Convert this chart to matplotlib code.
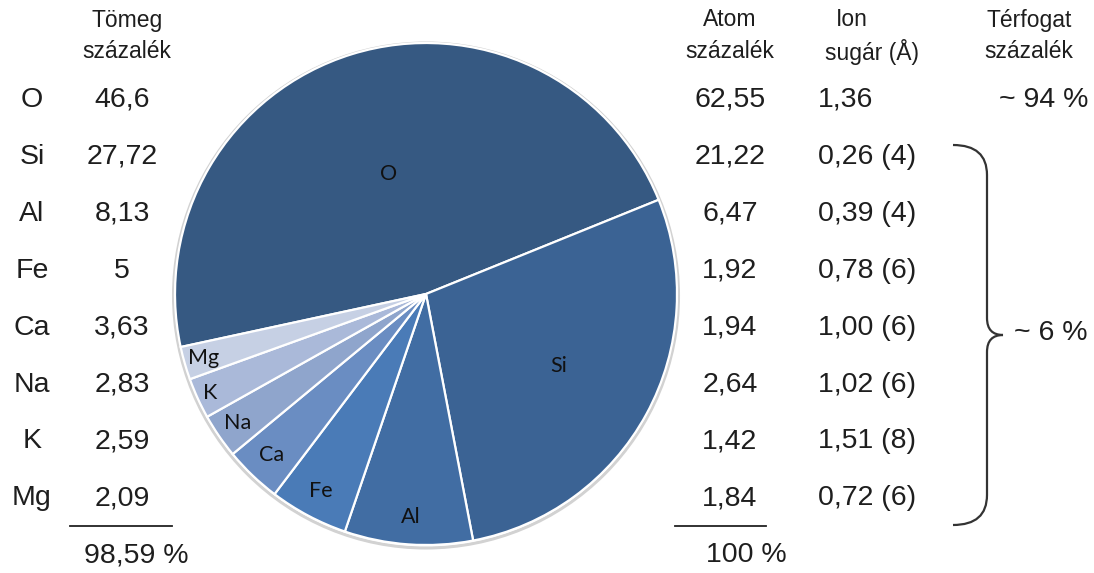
import matplotlib
matplotlib.use("Agg")
import matplotlib.pyplot as plt
import numpy as np
from matplotlib.path import Path
from matplotlib.patches import PathPatch, Circle

# composition of the crust
elements = ['O', 'Si', 'Al', 'Fe', 'Ca', 'Na', 'K', 'Mg']
mass_pct = [46.6, 27.72, 8.13, 5, 3.63, 2.83, 2.59, 2.09]
atom_pct = [62.55, 21.22, 6.47, 1.92, 1.94, 2.64, 1.42, 1.84]
ion_radius = [1.36, 0.26, 0.39, 0.78, 1.00, 1.02, 1.51, 0.72]
coord_num = [None, 4, 4, 6, 6, 6, 8, 6]
vol_o = "~ 94 %"
vol_rest = "~ 6 %"

colors = ['#365982', '#3b6394', '#416da3', '#4a7bb7', '#6a8dc2',
          '#8fa5cc', '#aab9d9', '#c6d0e4']
label_r = [0.5, 0.6, 0.89, 0.89, 0.89, 0.91, 0.945, 0.92]

W, H = 1094, 573
fig = plt.figure(figsize=(W / 100, H / 100), dpi=100)
ax = fig.add_axes([0, 0, 1, 1])

def Y(py):
    return H - py

def fmt(v, spec):
    return format(v, spec).replace('.', ',')

txt = dict(family='Liberation Sans', color='#1e1e1e')
FS = 20.5
HS = 16.5

# pie
cx, cy, R = 426, Y(294), 251
ax.add_patch(Circle((cx, cy - 1.5), R + 1.5, facecolor='none', edgecolor='#d2d2d2', lw=2.2, zorder=0))
wedges, _ = ax.pie(mass_pct, colors=colors, startangle=192.2, counterclock=False,
                   center=(cx, cy), radius=R,
                   wedgeprops=dict(edgecolor='white', linewidth=1.6))
for w, name, rf in zip(wedges, elements, label_r):
    a = np.deg2rad((w.theta1 + w.theta2) / 2)
    ax.text(cx + rf * R * np.cos(a), cy + rf * R * np.sin(a), name,
            ha='center', va='center', fontsize=15.5, family='Lato', color='#111111')

# left table
row_y = [100 + i * 56.9 for i in range(len(elements))]
ax.text(127, Y(20), "Tömeg", ha='center', va='center', fontsize=HS, **txt)
ax.text(127, Y(52), "százalék", ha='center', va='center', fontsize=HS, **txt)
for y, el, m in zip(row_y, elements, mass_pct):
    ax.text(32, Y(y), el, ha='center', va='center', fontsize=FS, **txt)
    ax.text(122, Y(y), fmt(m, 'g'), ha='center', va='center', fontsize=FS, **txt)
ax.plot([70, 172], [Y(526), Y(526)], color='#222222', lw=1.3)
ax.text(136, Y(555), fmt(round(sum(mass_pct), 2), 'g') + " %", ha='center', va='center',
        fontsize=FS, **txt)

# right table
ax.text(730, Y(20), "Atom", ha='center', va='center', fontsize=HS, **txt)
ax.text(730, Y(52), "százalék", ha='center', va='center', fontsize=HS, **txt)
ax.text(836, Y(20), "Ion", ha='left', va='center', fontsize=HS, **txt)
ax.text(825, Y(52), "sugár (Å)", ha='left', va='center', fontsize=HS, **txt)
ax.text(1029, Y(20), "Térfogat", ha='center', va='center', fontsize=HS, **txt)
ax.text(1029, Y(52), "százalék", ha='center', va='center', fontsize=HS, **txt)
for y, a, r, c in zip(row_y, atom_pct, ion_radius, coord_num):
    ax.text(730, Y(y), fmt(a, '.2f'), ha='center', va='center', fontsize=FS, **txt)
    s = fmt(r, '.2f') + ("" if c is None else f" ({c})")
    ax.text(818, Y(y), s, ha='left', va='center', fontsize=FS, **txt)
ax.plot([675, 766], [Y(526), Y(526)], color='#222222', lw=1.3)
ax.text(746, Y(555), f"{round(sum(atom_pct)):d} %", ha='center', va='center', fontsize=FS, **txt)

ax.text(1088, Y(row_y[0]), vol_o, ha='right', va='center', fontsize=FS, **txt)

# curly brace for the minor elements
top, mid, bot = 145, 335, 525
xt, xv, xm = 953, 987, 1003
verts = [(xt, Y(top)), (xv, Y(top)), (xv, Y(top + 30)),
         (xv, Y(mid - 17)),
         (xv, Y(mid)), (xm, Y(mid)),
         (xv, Y(mid)), (xv, Y(mid + 17)),
         (xv, Y(bot - 30)),
         (xv, Y(bot)), (xt, Y(bot))]
codes = [Path.MOVETO, Path.CURVE3, Path.CURVE3, Path.LINETO,
         Path.CURVE3, Path.CURVE3, Path.CURVE3, Path.CURVE3,
         Path.LINETO, Path.CURVE3, Path.CURVE3]
ax.add_patch(PathPatch(Path(verts, codes), facecolor='none', edgecolor='#333333', lw=1.6))
ax.text(1088, Y(333), vol_rest, ha='right', va='center', fontsize=FS, **txt)

ax.set_xlim(0, W)
ax.set_ylim(0, H)
ax.set_aspect('auto')
ax.axis('off')

fig.savefig("out.png", dpi=100, facecolor='white')
